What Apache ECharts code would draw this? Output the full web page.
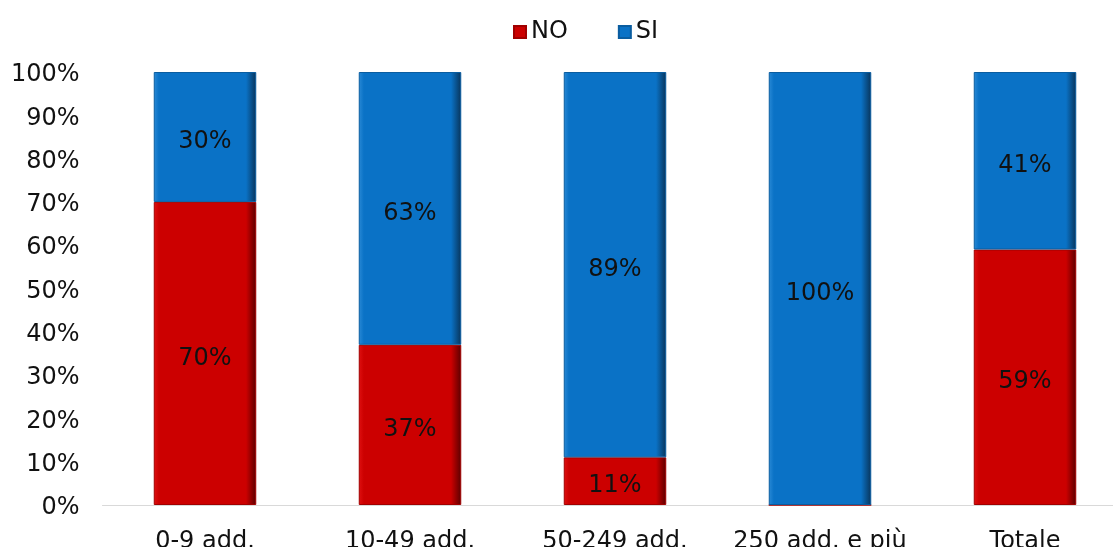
<!DOCTYPE html>
<html><head><meta charset="utf-8">
<script src="https://cdn.jsdelivr.net/npm/echarts@6/dist/echarts.min.js"></script>
<style>html,body{margin:0;padding:0;background:#fff}#c{width:1113px;height:547px}</style>
</head><body><div id="c"></div>
<script>
const categories = ['0-9 add.', '10-49 add.', '50-249 add.', '250 add. e più', 'Totale'];
const noValues = [70, 37, 11, 0, 59];
const siValues = [30, 63, 89, 100, 41];
const yTicks = [0, 10, 20, 30, 40, 50, 60, 70, 80, 90, 100];

const FONT = 'DejaVu Sans';
function grad(light, mid, dark) {
  return new echarts.graphic.LinearGradient(0, 0, 1, 0, [
    {offset: 0, color: light},
    {offset: 0.05, color: mid},
    {offset: 0.9, color: mid},
    {offset: 1, color: dark}
  ]);
}
const chart = echarts.init(document.getElementById('c'), null, {renderer: 'canvas'});
const lbl = {
  show: true, position: 'inside', color: '#111', fontFamily: FONT, fontSize: 24,
  offset: [0, 5],
  formatter: p => p.value > 0 ? p.value + '%' : ''
};
chart.setOption({
  animation: false,
  textStyle: {fontFamily: FONT},
  legend: {
    top: 15, left: 508, itemWidth: 12, itemHeight: 12, itemGap: 50,
    icon: 'rect',
    textStyle: {fontSize: 24, color: '#111', fontFamily: FONT},
    data: ['NO', 'SI']
  },
  grid: {left: 102.5, right: -14.5, top: 72, bottom: 42, containLabel: false, outerBoundsMode: 'none'},
  xAxis: {
    type: 'category', data: categories,
    axisLine: {lineStyle: {color: '#d9d9d9', width: 1}},
    axisTick: {show: false},
    axisLabel: {color: '#111', fontSize: 24, fontFamily: FONT, margin: 25, interval: 0}
  },
  yAxis: {
    type: 'value', min: 0, max: 100, interval: 10,
    axisLine: {show: false}, axisTick: {show: false}, splitLine: {show: false},
    axisLabel: {color: '#111', fontSize: 24, fontFamily: FONT, margin: 23,
      verticalAlign: 'top', lineHeight: 6,
      formatter: v => yTicks.includes(v) ? v + '%' : ''}
  },
  series: [
    {
      name: 'NO', type: 'bar', stack: 's', data: noValues, barWidth: '50%',
      itemStyle: {color: grad('#e01010', '#cc0000', '#5a0000'), borderColor: '#a00000', borderWidth: 1},
      label: lbl
    },
    {
      name: 'SI', type: 'bar', stack: 's', data: siValues, barWidth: '50%',
      itemStyle: {color: grad('#2a8ad6', '#0a72c6', '#08345a'), borderColor: '#0a5da0', borderWidth: 1},
      label: lbl
    }
  ]
});
</script></body></html>
